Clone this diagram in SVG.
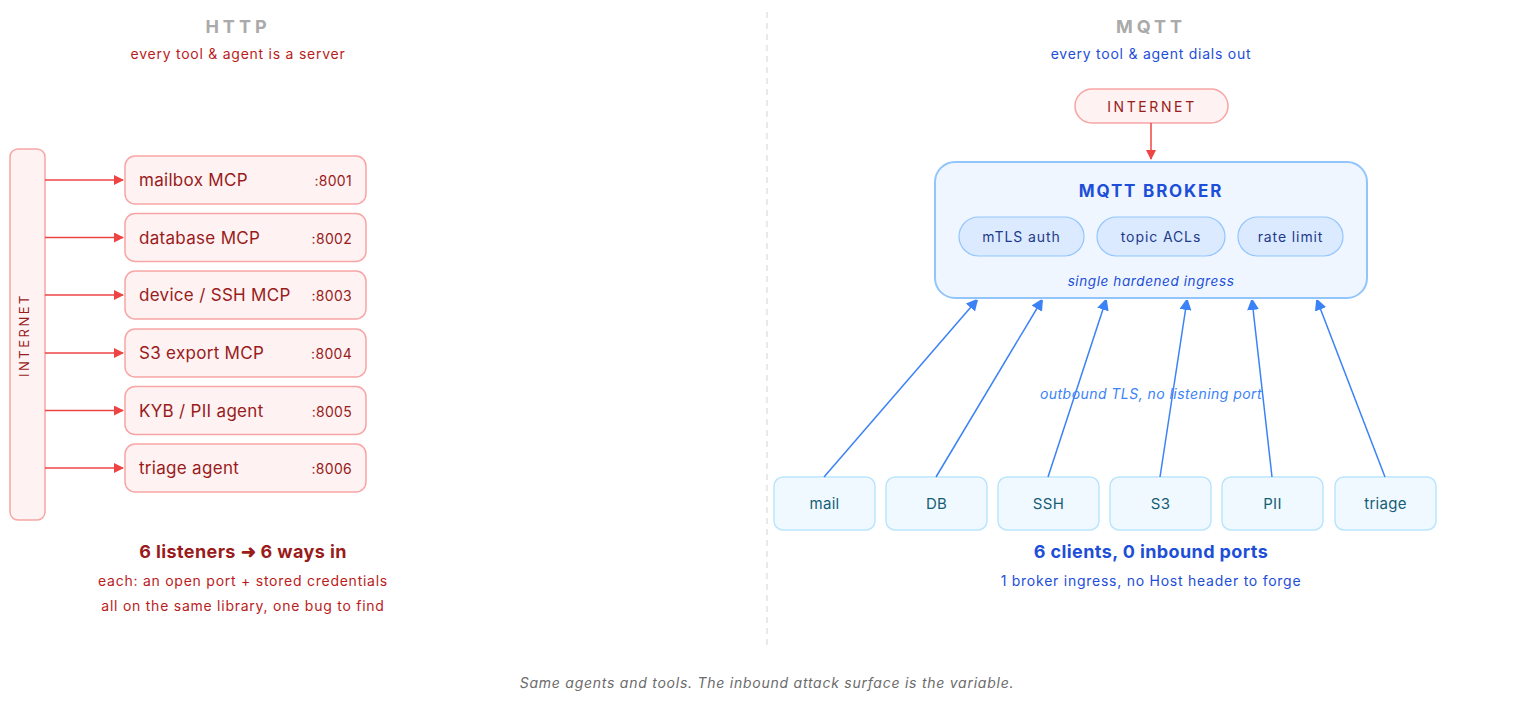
<svg xmlns="http://www.w3.org/2000/svg" width="1536" height="706" viewBox="0 0 1536 706">
<defs>
<marker id="ar" markerWidth="10" markerHeight="10" refX="9" refY="5" orient="auto" markerUnits="userSpaceOnUse"><path d="M0,0 L10,5 L0,10 Z" fill="#ef4444"/></marker>
<marker id="ab" markerWidth="10" markerHeight="12" refX="10" refY="6" orient="auto" markerUnits="userSpaceOnUse"><path d="M0,0 L12,6 L0,12 Z" fill="#3b82f6"/></marker>
<style>
text{font-family:Inter,"Liberation Sans",sans-serif}
.title{font-size:18px;font-weight:700;fill:#aaaaaa;letter-spacing:4px;text-anchor:middle}
.subr{font-size:14px;fill:#b91c1c;text-anchor:middle;letter-spacing:0.75px}
.subb{font-size:14px;fill:#1d4ed8;text-anchor:middle;letter-spacing:0.75px}
.rbox{fill:#fef2f2;stroke:#f8a5a5;stroke-width:1.5}
.rlab{font-size:17px;fill:#991b1b;letter-spacing:0.3px}
.port{font-size:14px;fill:#991b1b;text-anchor:end;letter-spacing:0.3px}
.rline{stroke:#ef4444;stroke-width:1.5;fill:none}
.bline{stroke:#3b82f6;stroke-width:1.5;fill:none}
.pill{fill:#dbeafe;stroke:#93c5fd;stroke-width:1.2}
.plab{font-size:14px;fill:#1e3a8a;text-anchor:middle;letter-spacing:0.9px}
.cbox{fill:#f0f9ff;stroke:#bae6fd;stroke-width:1.5}
.clab{font-size:15px;fill:#155e75;text-anchor:middle;letter-spacing:0.3px}
</style>
</defs>
<line x1="767" y1="12" x2="767" y2="645" stroke="#e2e2e2" stroke-width="1.5" stroke-dasharray="6 5"/>
<g id="http-header">
<text class="title" x="238" y="33">HTTP</text>
<text class="subr" x="238" y="59">every tool &amp; agent is a server</text>
</g>
<g id="internet-left">
<rect x="10" y="149" width="35" height="371" rx="8" class="rbox"/>
<text transform="translate(29,335) rotate(-90)" font-size="13" fill="#991b1b" letter-spacing="2.5" text-anchor="middle">INTERNET</text>
</g>
<g id="n-mailbox"><rect x="125" y="156" width="241" height="48" rx="10" class="rbox"/><text class="rlab" x="139" y="186">mailbox MCP</text><text class="port" x="352" y="186">:8001</text></g>
<g id="n-database"><rect x="125" y="213.5" width="241" height="48" rx="10" class="rbox"/><text class="rlab" x="139" y="243.5">database MCP</text><text class="port" x="352" y="243.5">:8002</text></g>
<g id="n-device"><rect x="125" y="271" width="241" height="48" rx="10" class="rbox"/><text class="rlab" x="139" y="301">device / SSH MCP</text><text class="port" x="352" y="301">:8003</text></g>
<g id="n-s3"><rect x="125" y="329" width="241" height="48" rx="10" class="rbox"/><text class="rlab" x="139" y="359">S3 export MCP</text><text class="port" x="352" y="359">:8004</text></g>
<g id="n-kyb"><rect x="125" y="386.5" width="241" height="48" rx="10" class="rbox"/><text class="rlab" x="139" y="416.5">KYB / PII agent</text><text class="port" x="352" y="416.5">:8005</text></g>
<g id="n-triage"><rect x="125" y="444" width="241" height="48" rx="10" class="rbox"/><text class="rlab" x="139" y="474">triage agent</text><text class="port" x="352" y="474">:8006</text></g>
<g id="http-summary">
<text x="243" y="558" font-size="18" font-weight="700" fill="#991b1b" text-anchor="middle" letter-spacing="0.4">6 listeners ➜ 6 ways in</text>
<text class="subr" x="243" y="586">each: an open port + stored credentials</text>
<text class="subr" x="243" y="611">all on the same library, one bug to find</text>
</g>
<g id="mqtt-header">
<text class="title" x="1151" y="33">MQTT</text>
<text class="subb" x="1151" y="59">every tool &amp; agent dials out</text>
</g>
<g id="internet-right">
<rect x="1075" y="89" width="153" height="34" rx="17" class="rbox"/>
<text x="1152" y="111.5" font-size="14" fill="#991b1b" letter-spacing="2.6" text-anchor="middle">INTERNET</text>
</g>
<g id="broker">
<rect x="935" y="162" width="432" height="136" rx="20" fill="#eff6ff" stroke="#93c5fd" stroke-width="2"/>
<text x="1151" y="197" font-size="17" font-weight="700" fill="#1d4ed8" letter-spacing="1.8" text-anchor="middle">MQTT BROKER</text>
<rect x="959" y="217" width="125" height="39" rx="19.5" class="pill"/><text class="plab" x="1021.5" y="242">mTLS auth</text>
<rect x="1097" y="217" width="128" height="39" rx="19.5" class="pill"/><text class="plab" x="1161" y="242">topic ACLs</text>
<rect x="1238" y="217" width="105" height="39" rx="19.5" class="pill"/><text class="plab" x="1290.5" y="242">rate limit</text>
<text x="1151" y="286" font-size="13.5" font-style="italic" fill="#1d4ed8" text-anchor="middle" letter-spacing="0.6">single hardened ingress</text>
</g>
<g id="c-mail"><rect x="774" y="477" width="101" height="53" rx="9" class="cbox"/><text class="clab" x="824.5" y="509">mail</text></g>
<g id="c-db"><rect x="886" y="477" width="101" height="53" rx="9" class="cbox"/><text class="clab" x="936.5" y="509">DB</text></g>
<g id="c-ssh"><rect x="998" y="477" width="101" height="53" rx="9" class="cbox"/><text class="clab" x="1048.5" y="509">SSH</text></g>
<g id="c-s3"><rect x="1110" y="477" width="101" height="53" rx="9" class="cbox"/><text class="clab" x="1160.5" y="509">S3</text></g>
<g id="c-pii"><rect x="1222" y="477" width="101" height="53" rx="9" class="cbox"/><text class="clab" x="1272.5" y="509">PII</text></g>
<g id="c-triage"><rect x="1335" y="477" width="101" height="53" rx="9" class="cbox"/><text class="clab" x="1385.5" y="509">triage</text></g>
<g id="connectors">
<line class="rline" x1="45" y1="180" x2="123" y2="180" marker-end="url(#ar)"/>
<line class="rline" x1="45" y1="237.5" x2="123" y2="237.5" marker-end="url(#ar)"/>
<line class="rline" x1="45" y1="295" x2="123" y2="295" marker-end="url(#ar)"/>
<line class="rline" x1="45" y1="353" x2="123" y2="353" marker-end="url(#ar)"/>
<line class="rline" x1="45" y1="410.5" x2="123" y2="410.5" marker-end="url(#ar)"/>
<line class="rline" x1="45" y1="468" x2="123" y2="468" marker-end="url(#ar)"/>
<line class="rline" x1="1151" y1="123" x2="1151" y2="159" marker-end="url(#ar)"/>
<line class="bline" x1="824" y1="477" x2="977" y2="300" marker-end="url(#ab)"/>
<line class="bline" x1="936" y1="477" x2="1042" y2="300" marker-end="url(#ab)"/>
<line class="bline" x1="1048" y1="477" x2="1106" y2="300" marker-end="url(#ab)"/>
<line class="bline" x1="1160" y1="477" x2="1187" y2="300" marker-end="url(#ab)"/>
<line class="bline" x1="1272" y1="477" x2="1252" y2="300" marker-end="url(#ab)"/>
<line class="bline" x1="1385" y1="477" x2="1317" y2="300" marker-end="url(#ab)"/>
<text x="1151" y="399" font-size="14" font-style="italic" fill="#3b82f6" text-anchor="middle" letter-spacing="0.45">outbound TLS, no listening port</text>
</g>
<g id="mqtt-summary">
<text x="1151" y="558" font-size="18" font-weight="700" fill="#1d4ed8" text-anchor="middle" letter-spacing="0.4">6 clients, 0 inbound ports</text>
<text class="subb" x="1151" y="586">1 broker ingress, no Host header to forge</text>
</g>
<text x="767" y="688" font-size="14" font-style="italic" fill="#6b6b6b" text-anchor="middle" letter-spacing="0.75">Same agents and tools. The inbound attack surface is the variable.</text>
</svg>
